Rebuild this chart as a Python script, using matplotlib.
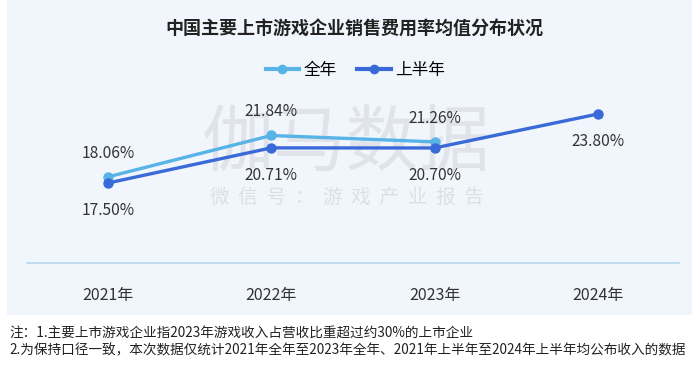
import matplotlib.pyplot as plt
from matplotlib.patches import Rectangle
from matplotlib.lines import Line2D

plt.rcParams['font.family'] = ['Noto Sans CJK SC', 'DejaVu Sans']

years = ["2021年", "2022年", "2023年", "2024年"]
full_year = [18.06, 21.84, 21.26]
half_year = [17.50, 20.71, 20.70, 23.80]

title = "中国主要上市游戏企业销售费用率均值分布状况"
notes = [
    "注：1.主要上市游戏企业指2023年游戏收入占营收比重超过约30%的上市企业",
    "2.为保持口径一致，本次数据仅统计2021年全年至2023年全年、2021年上半年至2024年上半年均公布收入的数据",
]

c_full = "#58b3e6"
c_half = "#3a6ad8"

W, H = 700, 369
fig = plt.figure(figsize=(7, 3.69), dpi=100, facecolor="white")

# light panel behind the chart
fig.patches.append(Rectangle((7 / W, 1 - 315 / H), 685 / W, 315 / H,
                             transform=fig.transFigure, facecolor="#f1f6fc",
                             edgecolor="none", zorder=-5))

ax = fig.add_axes([27 / W, 1 - 263 / H, 652 / W, 168 / H])
ax.set_facecolor("none")
ax.set_xlim(-0.496, 3.497)
ax.set_ylim(10.19, 25.54)
for s in ["top", "right", "left"]:
    ax.spines[s].set_visible(False)
ax.spines["bottom"].set_color("#b5d8ea")
ax.spines["bottom"].set_linewidth(1.2)
ax.set_yticks([])
ax.set_xticks(range(len(years)))
ax.set_xticklabels(years, fontsize=11.5, color="#333333")
ax.tick_params(axis="x", length=0, pad=17)

# watermark
ax.text(0.49, 0.70, "伽马数据", transform=ax.transAxes, ha="center", va="center",
        fontsize=52, color="#d2d5da", alpha=0.55, zorder=1)
ax.text(0.49, 0.39, "微  信  号  ：  游  戏  产  业  报  告", transform=ax.transAxes,
        ha="center", va="center", fontsize=14, color="#d2d5da", alpha=0.65, zorder=1)

x_full = list(range(len(full_year)))
x_half = list(range(len(half_year)))
ax.plot(x_full, full_year, color=c_full, lw=2.4, marker="o", ms=6.5, zorder=3)
ax.plot(x_half, half_year, color=c_half, lw=2.4, marker="o", ms=6.5, zorder=4)

for x, v in zip(x_full, full_year):
    ax.annotate(f"{v:.2f}%", (x, v), xytext=(0, 17), textcoords="offset points",
                ha="center", va="center", fontsize=11.2, color="#333333")
for x, v in zip(x_half, half_year):
    ax.annotate(f"{v:.2f}%", (x, v), xytext=(0, -20), textcoords="offset points",
                ha="center", va="center", fontsize=11.2, color="#333333")

fig.text(0.506, 1 - 28 / H, title, ha="center", va="center", fontsize=13,
         fontweight="bold", color="#222222")

handles = [Line2D([], [], color=c_full, lw=3, marker="o", ms=6),
           Line2D([], [], color=c_half, lw=3, marker="o", ms=6)]
fig.legend(handles, ["全年", "上半年"], loc="center", bbox_to_anchor=(0.508, 1 - 70 / H),
           ncol=2, frameon=False, fontsize=12, handlelength=2.0, handletextpad=0.3,
           columnspacing=1.2)

fig.text(9 / W, 1 - 334 / H, notes[0], ha="left", va="center", fontsize=9.8, color="#222222")
fig.text(9 / W, 1 - 350 / H, notes[1], ha="left", va="center", fontsize=9.8, color="#222222")

fig.savefig("out.png", dpi=100, facecolor="white")
